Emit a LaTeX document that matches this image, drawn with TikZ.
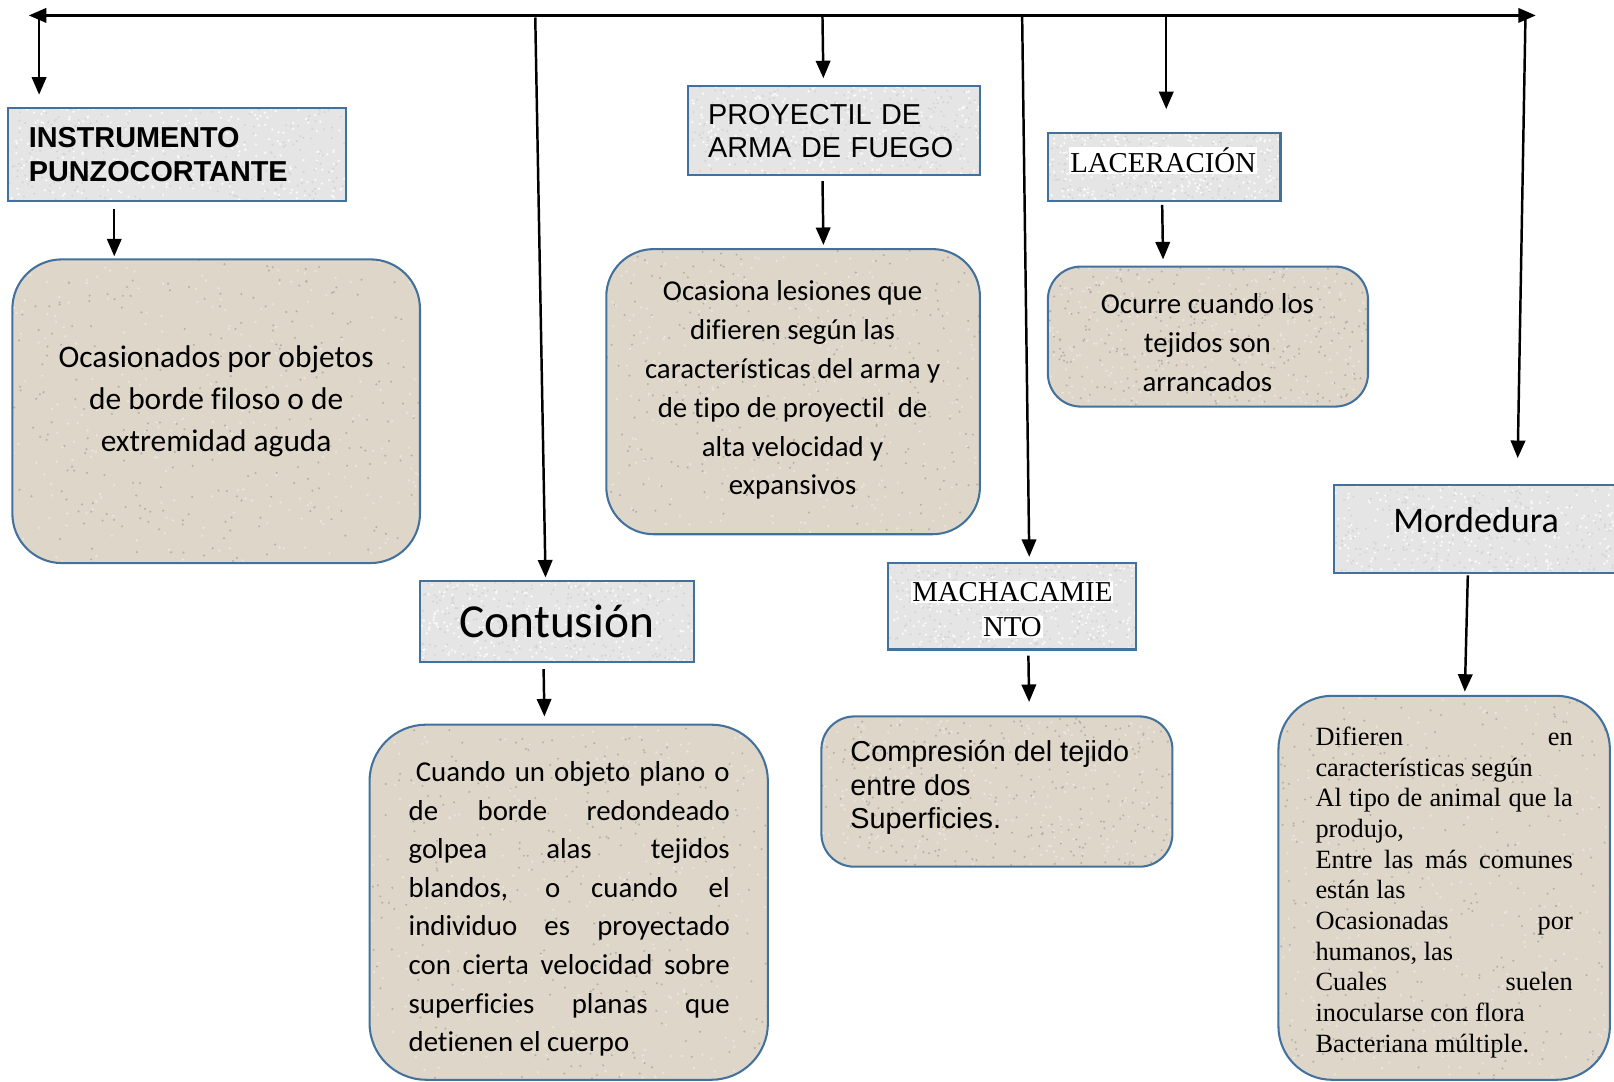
\documentclass[tikz,border=0pt]{standalone}
\usepackage{fontspec}
\setmainfont{Carlito}[Ligatures=CommonOff]
\newfontfamily\arialf{Liberation Sans}
\newfontfamily\timesf{Liberation Serif}
\newfontfamily\calf{Carlito}[Ligatures=CommonOff]
\usetikzlibrary{arrows.meta,calc}
\definecolor{bordblue}{RGB}{65,113,156}
\definecolor{graytex}{RGB}{229,229,229}
\definecolor{tantex}{RGB}{222,214,201}
\setlength{\fboxsep}{1pt}
\pgfmathsetseed{4242}
\tikzset{
  conn/.style={line width=2.4pt, -{Triangle[length=17pt,width=14pt]}},
  speckle/.style n args={2}{path picture={
      \path (path picture bounding box.south west) coordinate (ppsw)
            (path picture bounding box.north east) coordinate (ppne);
      \foreach \k in {1,...,260}{
        \fill[#1] let \p1=(ppsw), \p2=(ppne) in
          ({\x1+rnd*(\x2-\x1)},{\y1+rnd*(\y2-\y1)}) circle (1.1pt);
        \fill[#2] let \p1=(ppsw), \p2=(ppne) in
          ({\x1+rnd*(\x2-\x1)},{\y1+rnd*(\y2-\y1)}) circle (1.3pt);
      }}},
  tbox/.style={draw=bordblue, line width=2pt, fill=graytex, inner sep=0pt, align=center,
               speckle={black!17}{white!75!graytex}},
  rbox/.style={draw=bordblue, line width=2pt, fill=tantex, rounded corners=#1, inner sep=0pt,
               speckle={tantex!82!black}{white!35!tantex}},
  rbox/.default=48pt,
  txt/.style={inner sep=0pt}
}
\begin{document}
\begin{tikzpicture}[x=1pt,y=-1pt]
\useasboundingbox (0,0) rectangle (1568,1051);

% ---- title boxes ----
\node[tbox, minimum width=328pt, minimum height=90pt, text width=288pt, align=left,
      font=\arialf\bfseries\fontsize{28}{33}\selectfont] (instr) at (172,150) {INSTRUMENTO\\PUNZOCORTANTE};
\node[tbox, minimum width=284pt, minimum height=86pt, text width=244pt, align=left,
      font=\arialf\fontsize{28}{32}\selectfont] (proy) at (810,127) {PROYECTIL DE\\ARMA DE FUEGO};
\node[tbox, minimum width=226pt, minimum height=66pt] (lac) at (1131,162) {};
\node[txt, font=\timesf\fontsize{28}{33}\selectfont] (lact) at (1130,156) {\colorbox{white}{LACERACIÓN}};
\node[tbox, minimum width=266pt, minimum height=79pt,
      font=\calf\fontsize{46}{52}\selectfont] (cont) at (541,603.5) {Contusión};
\node[tbox, minimum width=241pt, minimum height=84pt] (mach) at (983.5,589) {};
\node[txt, align=center, font=\timesf\fontsize{28}{34}\selectfont] (macht) at (983.5,592)
  {\colorbox{white}{MACHACAMIE}\\\colorbox{white}{NTO}};
\node[tbox, minimum width=284pt, minimum height=86pt] (mord) at (1438,514) {};
\node[txt, font=\calf\fontsize{35}{40}\selectfont] (mordt) at (1434,505) {Mordedura};

% ---- description boxes ----
\node[rbox=48pt, minimum width=396pt, minimum height=295pt] (r1) at (210,399.5) {};
\node[rbox=46pt, minimum width=363pt, minimum height=277pt] (r2) at (770.5,380.5) {};
\node[rbox=32pt, minimum width=311pt, minimum height=136pt] (r3) at (1173.5,327) {};
\node[rbox=55pt, minimum width=387pt, minimum height=345pt] (r4) at (552.5,876.5) {};
\node[rbox=32pt, minimum width=341pt, minimum height=146pt] (r5) at (968.5,769) {};
\node[rbox=52pt, minimum width=322pt, minimum height=373pt] (r6) at (1403,862.5) {};

\node[txt, align=center, font=\calf\fontsize{30.5}{41}\selectfont] (r1t) at (210,390)
  {Ocasionados por objetos\\de borde filoso o de\\extremidad aguda};
\node[txt, align=center, font=\calf\fontsize{28}{37.7}\selectfont] (r2t) at (770,379)
  {Ocasiona lesiones que\\difieren según las\\características del arma y\\de tipo de proyectil\ \ de\\alta velocidad y\\expansivos};
\node[txt, align=center, font=\calf\fontsize{28}{38}\selectfont] (r3t) at (1173,333)
  {Ocurre cuando los\\tejidos son\\arrancados};
\node[txt, align=left, font=\calf\fontsize{28}{37.5}\selectfont] (r4t) at (553,883)
  {\makebox[312pt][s]{\hspace{7pt}Cuando un objeto plano o}\\
   \makebox[312pt][s]{de borde redondeado}\\
   \makebox[312pt][s]{golpea alas tejidos}\\
   \makebox[312pt][s]{blandos, o cuando el}\\
   \makebox[312pt][s]{individuo es proyectado}\\
   \makebox[312pt][s]{con cierta velocidad sobre}\\
   \makebox[312pt][s]{superficies planas que}\\
   detienen el cuerpo};
\node[txt, anchor=west, align=left, font=\arialf\fontsize{28}{32.5}\selectfont] (r5t) at (826,765)
  {Compresión del tejido\\entre dos\\Superficies.};
\node[txt, align=left, font=\timesf\fontsize{25.6}{29.8}\selectfont] (r6t) at (1403,867)
  {\makebox[250pt][s]{Difieren en}\\
   características según\\
   \makebox[250pt][s]{Al tipo de animal que la}\\
   produjo,\\
   \makebox[250pt][s]{Entre las más comunes}\\
   están las\\
   \makebox[250pt][s]{Ocasionadas por}\\
   humanos, las\\
   \makebox[250pt][s]{Cuales suelen}\\
   inocularse con flora\\
   Bacteriana múltiple.};

% ---- top bar ----
\coordinate (L) at (28,15);
\coordinate (R) at (1492,15);
\coordinate (t1) at (38,15);
\coordinate (t2) at (520,17);
\coordinate (t3) at (799,15);
\coordinate (t4) at (993,15);
\coordinate (t5) at (1133,17);
\coordinate (t6) at (1482,15);
\draw[line width=2.4pt, {Triangle[length=17pt,width=14pt]}-{Triangle[length=17pt,width=14pt]}] (L) -- (R);

\draw[conn, shorten >=12pt] (t1) -- (t1 |- instr.north);
\draw[conn, shorten >=2pt] (t2) -- ([xshift=-11pt]cont.north);
\draw[conn, shorten >=7pt] (t3) -- ([xshift=-10pt]proy.north);
\draw[conn, shorten >=5pt] (t4) -- ([xshift=16.5pt]mach.north);
\draw[conn, shorten >=22pt] (t5) -- ([xshift=2pt]lac.north);
\draw[conn, shorten >=25pt] (t6) -- ([xshift=36pt]mord.north);

% ---- title to description ----
\draw[conn, shorten <=7pt, shorten >=2pt] ([xshift=-61pt]instr.south) -- ([xshift=-99pt]r1.north);
\draw[conn, shorten <=5pt, shorten >=3pt] ([xshift=-11pt]proy.south) -- ([xshift=29.5pt]r2.north);
\draw[conn, shorten <=3pt, shorten >=6pt] ([xshift=-2pt]lac.south) -- ([xshift=-43.5pt]r3.north);
\draw[conn, shorten <=6pt, shorten >=7pt] ([xshift=-13pt]cont.south) -- ([xshift=-23.5pt]r4.north);
\draw[conn, shorten <=5pt, shorten >=13pt] ([xshift=15.5pt]mach.south) -- ([xshift=31.5pt]r5.north);
\draw[conn, shorten <=1pt, shorten >=3pt] ([xshift=-12pt]mord.south) -- ([xshift=20pt]r6.north);
\end{tikzpicture}
\end{document}
